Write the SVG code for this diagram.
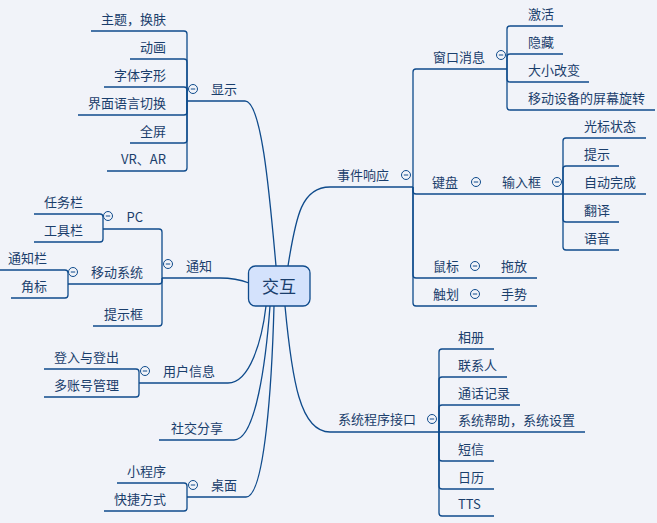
<svg xmlns="http://www.w3.org/2000/svg" width="657" height="523" viewBox="0 0 657 523">
<style>
.c{fill:none;stroke:#0f4b8c;stroke-width:1.3}
.t{font-family:"Noto Sans CJK SC","Liberation Sans",sans-serif;font-size:13px;fill:#1a3e6c}
.e{text-anchor:end}
.tg circle{fill:#f1f3f9;stroke:#0f4b8c;stroke-width:1}
.tg line{stroke:#0f4b8c;stroke-width:1}
</style>
<defs>
<g id="tog" class="tg"><circle r="4.5"/><line x1="-2.2" y1="0" x2="2.2" y2="0"/></g>
</defs>
<rect width="657" height="523" fill="#f1f3f9"/>
<g id="connectors">
<!-- display -->
<path class="c" d="M187,101 H245 C262,101 270,200 276,266"/>
<path class="c" d="M187,101 V34 Q187,31 184,31 H91"/>
<path class="c" d="M187,101 V62 Q187,59 184,59 H130"/>
<path class="c" d="M187,101 V90 Q187,87 184,87 H104"/>
<path class="c" d="M187,101 V112 Q187,115 184,115 H78"/>
<path class="c" d="M187,101 V140 Q187,143 184,143 H130"/>
<path class="c" d="M187,101 V168 Q187,171 184,171 H107"/>
<!-- notify -->
<path class="c" d="M162,278 H220 C234,278 241,280 249,283"/>
<path class="c" d="M162,278 V232 Q162,229 159,229 H103"/>
<path class="c" d="M162,278 V281 Q162,284 159,284 H68"/>
<path class="c" d="M162,278 V323 Q162,326 159,326 H93"/>
<path class="c" d="M103,229 V217 Q103,214 100,214 H34"/>
<path class="c" d="M103,229 V239 Q103,242 100,242 H34"/>
<path class="c" d="M68,284 V273 Q68,270 65,270 H0"/>
<path class="c" d="M68,284 V295 Q68,298 65,298 H11"/>
<!-- user info -->
<path class="c" d="M139,383 H228 C250,383 262,340 266,306"/>
<path class="c" d="M139,383 V372 Q139,369 136,369 H44"/>
<path class="c" d="M139,383 V394 Q139,397 136,397 H44"/>
<!-- social -->
<path class="c" d="M159,440 H234 C256,440 266,360 270,306"/>
<!-- desktop -->
<path class="c" d="M187,497 H246 C265,497 272,380 274,306"/>
<path class="c" d="M187,497 V486 Q187,483 184,483 H117"/>
<path class="c" d="M187,497 V508 Q187,511 184,511 H104"/>
<!-- events -->
<path class="c" d="M288,266 C296,215 302,187 330,187 H413"/>
<path class="c" d="M413,187 V72 Q413,69 416,69 H507"/>
<path class="c" d="M413,187 V191 Q413,194 416,194 H563"/>
<path class="c" d="M413,187 V275 Q413,278 416,278 H537"/>
<path class="c" d="M413,187 V303 Q413,306 416,306 H537"/>
<path class="c" d="M507,69 V29 Q507,26 510,26 H563"/>
<path class="c" d="M507,69 V57 Q507,54 510,54 H563"/>
<path class="c" d="M507,69 V79 Q507,82 510,82 H589"/>
<path class="c" d="M507,69 V107 Q507,110 510,110 H655"/>
<path class="c" d="M563,194 V141 Q563,138 566,138 H646"/>
<path class="c" d="M563,194 V169 Q563,166 566,166 H619"/>
<path class="c" d="M563,194 H646"/>
<path class="c" d="M563,194 V219 Q563,222 566,222 H619"/>
<path class="c" d="M563,194 V247 Q563,250 566,250 H619"/>
<!-- system api -->
<path class="c" d="M285,306 C292,380 300,432 330,432 H439"/>
<path class="c" d="M439,432 V352 Q439,349 442,349 H494"/>
<path class="c" d="M439,432 V380 Q439,377 442,377 H507"/>
<path class="c" d="M439,432 V408 Q439,405 442,405 H520"/>
<path class="c" d="M439,432 H585"/>
<path class="c" d="M439,432 V458 Q439,461 442,461 H494"/>
<path class="c" d="M439,432 V486 Q439,489 442,489 H494"/>
<path class="c" d="M439,432 V513 Q439,516 442,516 H494"/>
</g>
<g id="root">
<rect x="248.5" y="266" width="61.5" height="40" rx="7" fill="#d4e2fc" stroke="#0f4b8c" stroke-width="1.3"/>
<text x="279" y="292.5" text-anchor="middle" style="font-family:'Noto Sans CJK SC','Liberation Sans',sans-serif;font-size:17px;fill:#1a3e6c">交互</text>
</g>
<g id="n-display"><text class="t" x="211" y="94">显示</text><use href="#tog" x="193" y="89"/></g>
<g id="n-theme"><text class="t e" x="166" y="24">主题，换肤</text></g>
<g id="n-anim"><text class="t e" x="166" y="52">动画</text></g>
<g id="n-font"><text class="t e" x="166" y="80">字体字形</text></g>
<g id="n-lang"><text class="t e" x="166" y="108">界面语言切换</text></g>
<g id="n-full"><text class="t e" x="166" y="136">全屏</text></g>
<g id="n-vr"><text class="t e" x="166" y="164">VR、AR</text></g>
<g id="n-notify"><text class="t" x="186" y="271">通知</text><use href="#tog" x="168" y="264"/></g>
<g id="n-pc"><text class="t e" x="143" y="222">PC</text><use href="#tog" x="108" y="216"/></g>
<g id="n-taskbar"><text class="t e" x="83" y="207">任务栏</text></g>
<g id="n-toolbar"><text class="t e" x="83" y="235">工具栏</text></g>
<g id="n-mobile"><text class="t e" x="143" y="277">移动系统</text><use href="#tog" x="73" y="272"/></g>
<g id="n-notibar"><text class="t e" x="47" y="263">通知栏</text></g>
<g id="n-badge"><text class="t e" x="47" y="291">角标</text></g>
<g id="n-tipbox"><text class="t e" x="143" y="319">提示框</text></g>
<g id="n-user"><text class="t" x="163" y="376">用户信息</text><use href="#tog" x="145" y="371"/></g>
<g id="n-login"><text class="t e" x="119" y="362">登入与登出</text></g>
<g id="n-multi"><text class="t e" x="119" y="390">多账号管理</text></g>
<g id="n-social"><text class="t" x="171" y="433">社交分享</text></g>
<g id="n-desktop"><text class="t" x="211" y="490">桌面</text><use href="#tog" x="193" y="485"/></g>
<g id="n-mini"><text class="t e" x="166" y="476">小程序</text></g>
<g id="n-shortcut"><text class="t e" x="166" y="504">快捷方式</text></g>
<g id="n-events"><text class="t" x="337" y="180">事件响应</text><use href="#tog" x="406" y="175"/></g>
<g id="n-window"><text class="t" x="433" y="62">窗口消息</text><use href="#tog" x="501" y="55"/></g>
<g id="n-activate"><text class="t" x="528" y="19">激活</text></g>
<g id="n-hide"><text class="t" x="528" y="47">隐藏</text></g>
<g id="n-resize"><text class="t" x="528" y="75">大小改变</text></g>
<g id="n-rotate"><text class="t" x="528" y="103">移动设备的屏幕旋转</text></g>
<g id="n-keyboard"><text class="t" x="432" y="187">键盘</text><use href="#tog" x="476" y="182"/></g>
<g id="n-input"><text class="t" x="502" y="187">输入框</text><use href="#tog" x="557" y="182"/></g>
<g id="n-cursor"><text class="t" x="584" y="131">光标状态</text></g>
<g id="n-hint"><text class="t" x="584" y="159">提示</text></g>
<g id="n-auto"><text class="t" x="584" y="187">自动完成</text></g>
<g id="n-translate"><text class="t" x="584" y="215">翻译</text></g>
<g id="n-voice"><text class="t" x="584" y="243">语音</text></g>
<g id="n-mouse"><text class="t" x="433" y="271">鼠标</text><use href="#tog" x="475" y="266"/></g>
<g id="n-drag"><text class="t" x="501" y="271">拖放</text></g>
<g id="n-touch"><text class="t" x="433" y="299">触划</text><use href="#tog" x="475" y="294"/></g>
<g id="n-gesture"><text class="t" x="501" y="299">手势</text></g>
<g id="n-sysapi"><text class="t" x="338" y="424">系统程序接口</text><use href="#tog" x="432" y="419"/></g>
<g id="n-album"><text class="t" x="458" y="342">相册</text></g>
<g id="n-contacts"><text class="t" x="458" y="370">联系人</text></g>
<g id="n-calls"><text class="t" x="458" y="398">通话记录</text></g>
<g id="n-help"><text class="t" x="458" y="425">系统帮助，系统设置</text></g>
<g id="n-sms"><text class="t" x="458" y="454">短信</text></g>
<g id="n-calendar"><text class="t" x="458" y="482">日历</text></g>
<g id="n-tts"><text class="t" x="458" y="509">TTS</text></g>
</svg>
